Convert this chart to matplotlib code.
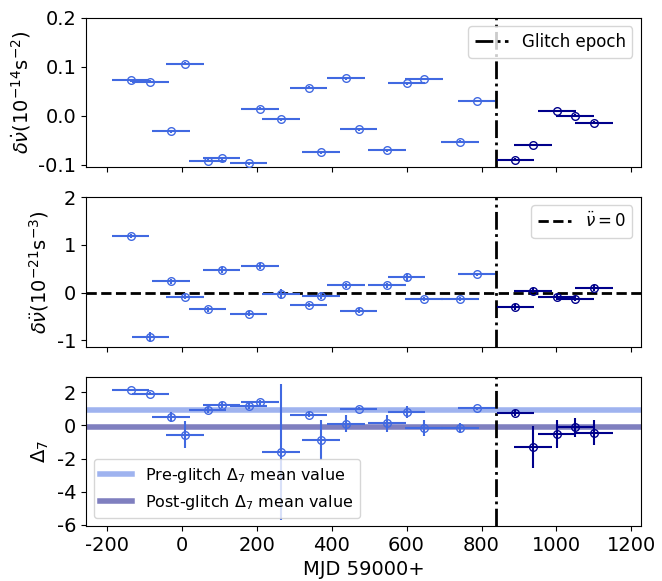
import matplotlib
matplotlib.use("Agg")
import matplotlib.pyplot as plt
import numpy as np

plt.rcParams['axes.unicode_minus'] = False

# epochs (MJD - 59000) and window half-widths
pre_t = [-136, -84, -28, 9, 69, 107, 179, 209, 265, 339, 372, 438, 472, 548, 600, 646, 743, 787]
pre_dt = [49, 49, 50, 50, 50, 50, 50, 50, 50, 50, 50, 50, 50, 50, 50, 50, 50, 50]
post_t = [890, 938, 1001, 1050, 1100]
post_dt = [50, 50, 50, 50, 50]

# nu-dot residuals (1e-14 s^-2)
pre_f1 = [0.0726, 0.069, -0.032, 0.106, -0.092, -0.087, -0.097, 0.0144, -0.007, 0.057,
          -0.075, 0.077, -0.028, -0.071, 0.066, 0.075, -0.053, 0.030]
pre_f1_err = [0.003, 0.003, 0.003, 0.003, 0.003, 0.003, 0.003, 0.003, 0.003, 0.003,
              0.003, 0.003, 0.003, 0.003, 0.003, 0.003, 0.003, 0.003]
post_f1 = [-0.090, -0.060, 0.0096, 0.0, -0.0144]
post_f1_err = [0.003, 0.003, 0.003, 0.003, 0.003]

# nu-ddot residuals (1e-21 s^-3)
pre_f2 = [1.186, -0.93, 0.233, -0.085, -0.353, 0.466, -0.445, 0.557, -0.035, -0.26,
          -0.064, 0.148, -0.38, 0.148, 0.318, -0.127, -0.127, 0.38]
pre_f2_err = [0.05, 0.11, 0.06, 0.06, 0.06, 0.06, 0.05, 0.06, 0.11, 0.05,
              0.07, 0.06, 0.05, 0.06, 0.09, 0.04, 0.04, 0.04]
post_f2 = [-0.296, 0.042, -0.085, -0.127, 0.092]
post_f2_err = [0.06, 0.05, 0.06, 0.06, 0.06]

# Delta_7 braking index indicator
pre_d7 = [2.16, 1.92, 0.52, -0.56, 0.92, 1.24, 1.16, 1.40, -1.58, 0.64,
          -0.88, 0.10, 1.00, 0.12, 0.82, -0.16, -0.14, 1.02]
pre_d7_err = [0.05, 0.1, 0.3, 0.8, 0.2, 0.2, 0.2, 0.15, 4.1, 0.15,
              1.2, 0.5, 0.1, 0.5, 0.35, 0.5, 0.3, 0.1]
post_d7 = [0.74, -1.32, -0.52, -0.12, -0.44]
post_d7_err = [0.2, 1.27, 0.84, 0.55, 0.75]

pre_mean = 0.92
post_mean = -0.12
glitch_epoch = 838

pre_col = 'royalblue'
post_col = 'darkblue'

fig = plt.figure(figsize=(6.62, 5.81), dpi=100)
ax1 = fig.add_axes([0.130, 0.7126, 0.838, 0.2565])
ax2 = fig.add_axes([0.130, 0.4028, 0.838, 0.2580], sharex=ax1)
ax3 = fig.add_axes([0.130, 0.0947, 0.838, 0.2565], sharex=ax1)

kw = dict(fmt='o', mfc='none', ms=5.5, elinewidth=1.5, mew=1.0, capsize=0)

def draw(ax, y_pre, e_pre, y_post, e_post):
    ax.errorbar(pre_t, y_pre, xerr=pre_dt, yerr=e_pre, color=pre_col, zorder=3, **kw)
    ax.errorbar(post_t, y_post, xerr=post_dt, yerr=e_post, color=post_col, zorder=3, **kw)

draw(ax1, pre_f1, pre_f1_err, post_f1, post_f1_err)
ax1.axvline(glitch_epoch, color='k', ls='-.', lw=2, label='Glitch epoch')
ax1.set_ylim(-0.105, 0.2)
ax1.set_yticks([-0.1, 0.0, 0.1, 0.2])
ax1.set_ylabel(r'$\delta\dot{\nu}(10^{-14}\mathrm{s}^{-2})$', fontsize=14)
ax1.legend(loc='upper right', fontsize=12)

draw(ax2, pre_f2, pre_f2_err, post_f2, post_f2_err)
ax2.axhline(0, color='k', ls='--', lw=2, label=r'$\ddot{\nu}=0$')
ax2.axvline(glitch_epoch, color='k', ls='-.', lw=2)
ax2.set_ylim(-1.14, 2.0)
ax2.set_yticks([-1, 0, 1, 2])
ax2.set_ylabel(r'$\delta\ddot{\nu}(10^{-21}\mathrm{s}^{-3})$', fontsize=14)
ax2.legend(loc='upper right', fontsize=12)

draw(ax3, pre_d7, pre_d7_err, post_d7, post_d7_err)
ax3.axhline(pre_mean, color=pre_col, alpha=0.5, lw=4, zorder=1,
            label=r'Pre-glitch $\Delta_7$ mean value')
ax3.axhline(post_mean, color='navy', alpha=0.5, lw=4, zorder=1,
            label=r'Post-glitch $\Delta_7$ mean value')
ax3.axvline(glitch_epoch, color='k', ls='-.', lw=2)
ax3.set_ylim(-6.06, 2.92)
ax3.set_yticks([-6, -4, -2, 0, 2])
ax3.set_ylabel(r'$\Delta_7$', fontsize=14)
ax3.set_xlabel('MJD 59000+', fontsize=14)
ax3.legend(loc='lower left', fontsize=11.5)

ax1.set_xlim(-255, 1225)
ax1.set_xticks([-200, 0, 200, 400, 600, 800, 1000, 1200])
for ax in (ax1, ax2):
    plt.setp(ax.get_xticklabels(), visible=False)
for ax in (ax1, ax2, ax3):
    ax.tick_params(labelsize=14)

fig.savefig('out.png', dpi=100)
